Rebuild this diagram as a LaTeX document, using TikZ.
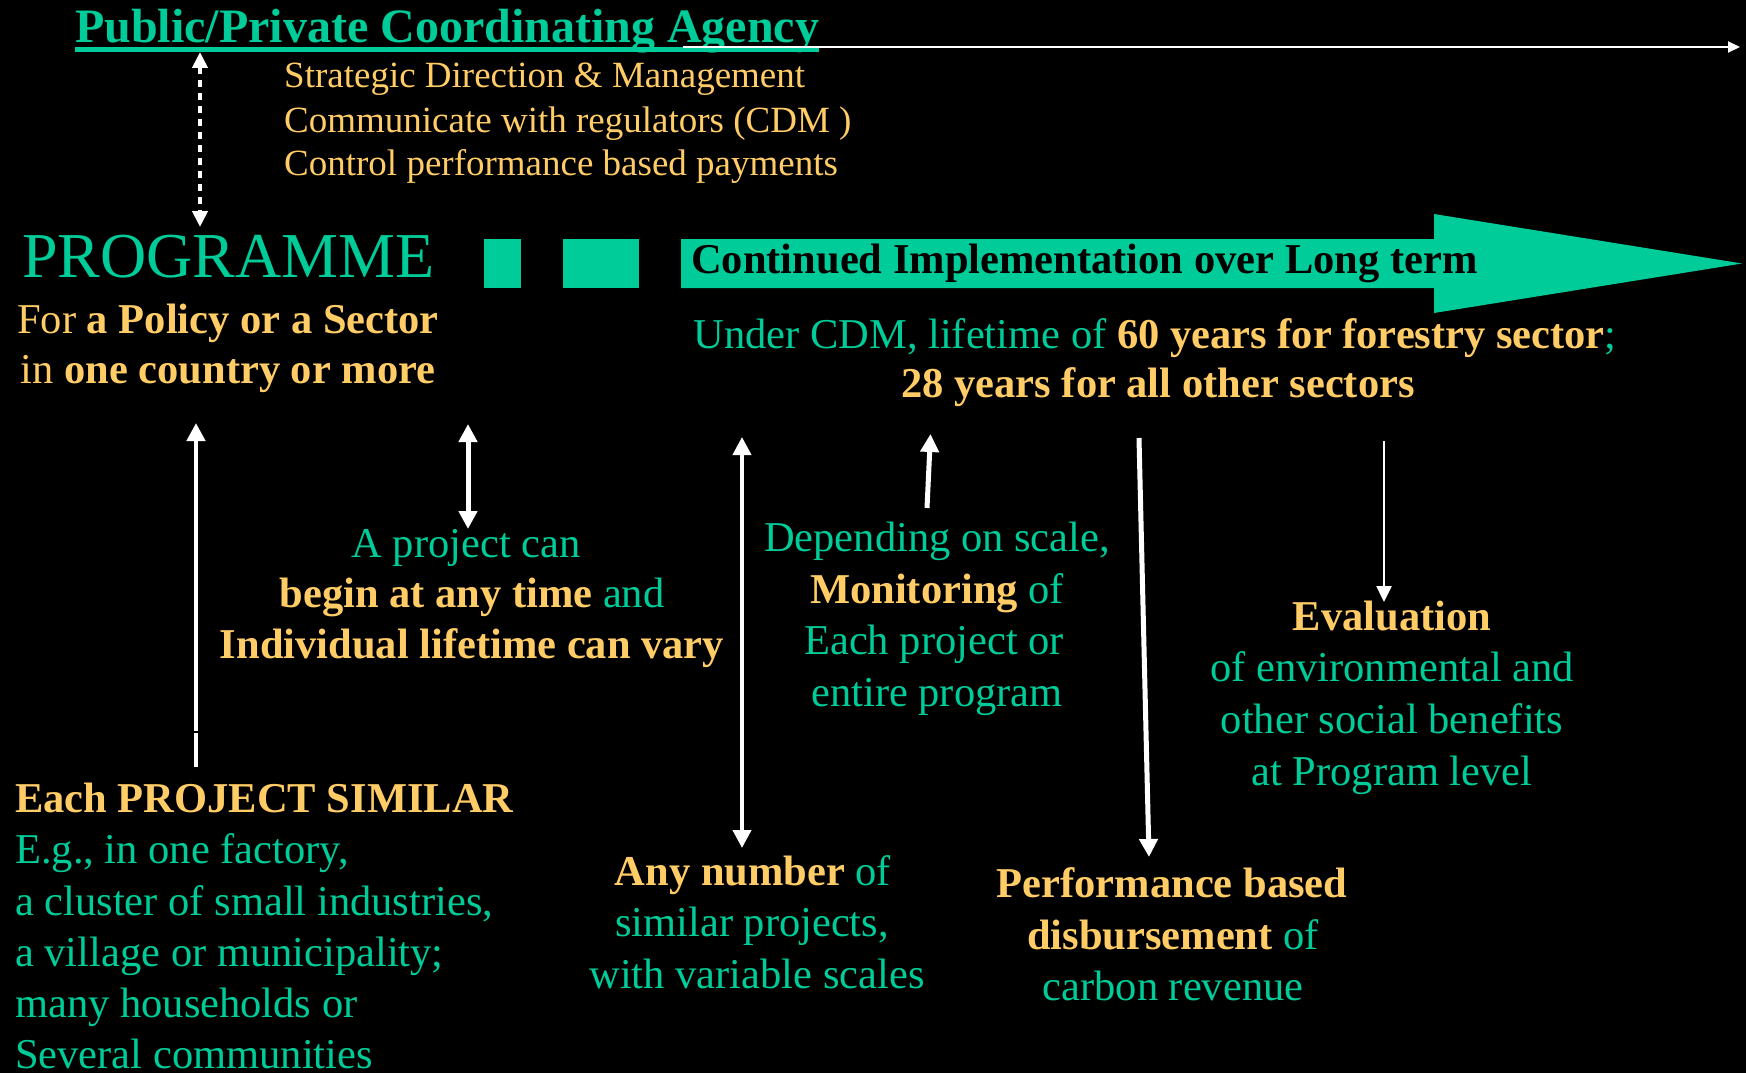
\documentclass[tikz,border=0pt]{standalone}
\usepackage{fontspec}
\setmainfont{Liberation Serif}
\usetikzlibrary{arrows.meta}
\definecolor{tealc}{HTML}{00CC99}
\definecolor{goldc}{HTML}{FFCC66}
\newcommand\hlgold[1]{{\bfseries\color{goldc}#1}}
\begin{document}
\begin{tikzpicture}[x=1pt,y=-1pt,
  ln/.style={inner sep=0pt, anchor=base},
  lnw/.style={inner sep=0pt, anchor=base west},
  bodyf/.style={font=\fontsize{42.5}{51}\selectfont},
  tealtxt/.style={bodyf, text=tealc},
  goldtxt/.style={bodyf, text=goldc},
  thickarr/.style={draw=white, line width=4.5pt, -{Triangle[width=18pt,length=18pt]}},
  dblarr/.style={draw=white, line width=5pt, {Triangle[width=18pt,length=18pt]}-{Triangle[width=18pt,length=18pt]}},
  thinarr/.style={draw=white, line width=2.5pt, -{Triangle[width=15pt,length=16pt]}}
]
\fill[black] (0,0) rectangle (1746,1073);
\useasboundingbox (0,0) rectangle (1746,1073);

% title
\node[lnw, text=tealc, font=\fontsize{48}{56}\selectfont\bfseries] (title) at (75,43) {Public/Private Coordinating Agency};
\draw[tealc, line width=5pt] ([yshift=-7pt]title.base west) -- ([yshift=-7pt]title.base east);
\coordinate (tls) at (683,47);
\coordinate (tle) at (1740,47);
\draw[white, line width=2pt, -{Triangle[width=11pt,length=12pt]}] (tls) -- (tle);

% management list
\node[lnw, text=goldc, font=\fontsize{37}{44}\selectfont] (m1) at (284,88) {Strategic Direction \& Management};
\node[lnw, text=goldc, font=\fontsize{37}{44}\selectfont] (m2) at (284,132) {Communicate with regulators (CDM )};
\node[lnw, text=goldc, font=\fontsize{37}{44}\selectfont] (m3) at (284,175) {Control performance based payments};

% programme
\node[lnw, text=tealc, font=\fontsize{64}{70}\selectfont] (prog) at (22,277) {PROGRAMME};
\node[ln, goldtxt] (pol1) at (228,333) {For \textbf{a Policy or a Sector}};
\node[ln, goldtxt] (pol2) at (228,383) {in \textbf{one country or more}};

\coordinate (dtop) at (200,52);
\coordinate (dbot) at (200,227);
\draw[white, line width=4pt, dash pattern=on 7pt off 6pt, {Triangle[width=15pt,length=16pt]}-{Triangle[width=15pt,length=16pt]}] (dtop) -- (dbot);

% squares and big arrow
\fill[tealc] (484,239) rectangle (521,288);
\fill[tealc] (563,239) rectangle (639,288);
\fill[tealc] (681,239) -- (1434,239) -- (1434,214) -- (1742,263.5) -- (1434,313) -- (1434,288) -- (681,288) -- cycle;
\node[lnw, text=black, font=\fontsize{42.5}{50}\selectfont\bfseries] (cont) at (691,273) {Continued Implementation over Long term};

\node[ln, tealtxt] (cdm1) at (1155,348) {Under CDM, lifetime of \hlgold{60 years for forestry sector};};
\node[ln, goldtxt, font=\fontsize{42.5}{51}\selectfont\bfseries] (cdm2) at (1158,397) {28 years for all other sectors};

% project can
\node[ln, tealtxt] (pc1) at (466,557) {A project can};
\node[ln, tealtxt] (pc2) at (472,607) {\hlgold{begin at any time} and};
\node[ln, goldtxt, font=\fontsize{42.5}{51}\selectfont\bfseries] (pc3) at (472,658) {Individual lifetime can vary};

% monitoring
\node[ln, tealtxt] (mo1) at (937,551) {Depending on scale,};
\node[ln, tealtxt] (mo2) at (937,603) {\hlgold{Monitoring} of};
\node[ln, tealtxt] (mo3) at (934,654) {Each project or};
\node[ln, tealtxt] (mo4) at (937,706) {entire program};

% evaluation
\node[ln, goldtxt, font=\fontsize{42.5}{51}\selectfont\bfseries] (ev1) at (1392,630) {Evaluation};
\node[ln, tealtxt] (ev2) at (1392,681) {of environmental and};
\node[ln, tealtxt] (ev3) at (1392,733) {other social benefits};
\node[ln, tealtxt] (ev4) at (1392,785) {at Program level};

% each project similar
\node[lnw, goldtxt, font=\fontsize{42.5}{51}\selectfont\bfseries] (ep1) at (15,812) {Each PROJECT SIMILAR};
\node[lnw, tealtxt] (ep2) at (15,863) {E.g., in one factory,};
\node[lnw, tealtxt] (ep3) at (15,915) {a cluster of small industries,};
\node[lnw, tealtxt] (ep4) at (15,966) {a village or municipality;};
\node[lnw, tealtxt] (ep5) at (15,1017) {many households or};
\node[lnw, tealtxt] (ep6) at (15,1068) {Several communities};

% any number
\node[ln, tealtxt] (an1) at (753,885) {\hlgold{Any number} of};
\node[ln, tealtxt] (an2) at (752,936) {similar projects,};
\node[ln, tealtxt] (an3) at (757,988) {with variable scales};

% performance
\node[ln, goldtxt, font=\fontsize{42.5}{51}\selectfont\bfseries] (pf1) at (1172,897) {Performance based};
\node[ln, tealtxt] (pf2) at (1173,949) {\hlgold{disbursement} of};
\node[ln, tealtxt] (pf3) at (1173,1000) {carbon revenue};

% arrows
\coordinate (a1b) at (196,767);
\coordinate (a1t) at (196,423);
\draw[thickarr] (a1b) -- (a1t);
\draw[black, line width=1.5pt] (192,732) -- (200,732);
\coordinate (a2t) at (468,424);
\coordinate (a2b) at (468,529);
\draw[dblarr] (a2t) -- (a2b);
\coordinate (a3t) at (742,437);
\coordinate (a3b) at (742,848);
\draw[dblarr, line width=4pt] (a3t) -- (a3b);
\coordinate (a4b) at (927,508);
\coordinate (a4t) at (930.5,434);
\draw[thickarr, line width=5pt] (a4b) -- (a4t);
\coordinate (a5t) at (1139,438);
\coordinate (a5b) at (1149,857);
\draw[thickarr, line width=5pt] (a5t) -- (a5b);
\coordinate (a6t) at (1384,441);
\coordinate (a6b) at (1384,602);
\draw[thinarr] (a6t) -- (a6b);
\end{tikzpicture}
\end{document}
